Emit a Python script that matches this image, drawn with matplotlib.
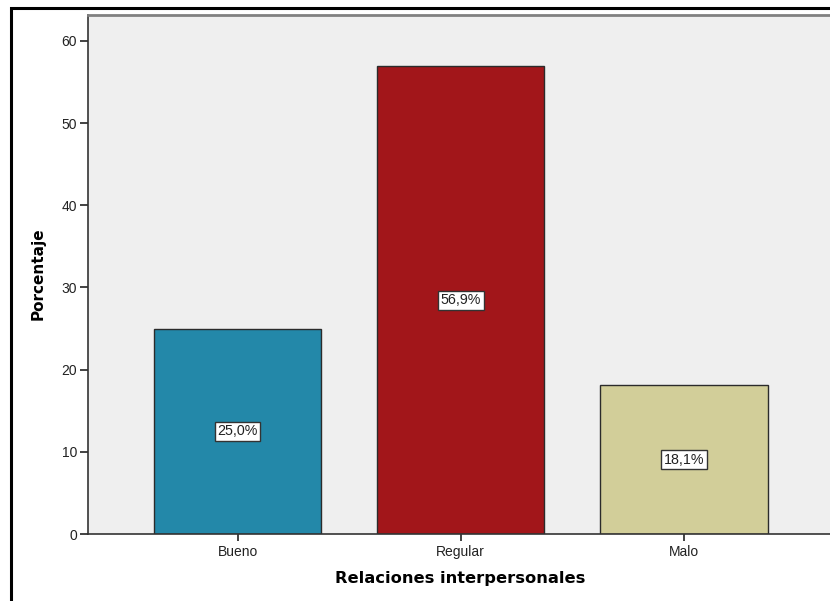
import matplotlib.pyplot as plt
from matplotlib.patches import Rectangle

plt.rcParams['font.family'] = ['Liberation Sans', 'DejaVu Sans']

categorias = ['Bueno', 'Regular', 'Malo']
porcentajes = [25.0, 56.9, 18.1]
colores = ['#2388A9', '#A2161A', '#D2CE99']
etiquetas = ['25,0%', '56,9%', '18,1%']

W, H = 830, 601
fig = plt.figure(figsize=(W / 100, H / 100), dpi=100)

# marco exterior negro (recortado a la derecha y abajo)
fig.patches.append(Rectangle((10.5 / W, -0.05), 1.2, (H - 8.5) / H + 0.05,
                             transform=fig.transFigure, fill=False,
                             edgecolor='black', linewidth=2.2, zorder=0))

x0, x1, y0, y1 = 88, 833.5, 534, 15
ax = fig.add_axes([x0 / W, (H - y0) / H, (x1 - x0) / W, (y0 - y1) / H])
ax.set_facecolor('#EFEFEF')

x = range(len(categorias))
ax.bar(x, porcentajes, width=0.75, color=colores, edgecolor='#2b2b2b',
       linewidth=1.0, zorder=2)

for i, (v, t) in enumerate(zip(porcentajes, etiquetas)):
    ax.text(i, v / 2, t, ha='center', va='center', fontsize=10.3, color='#222222',
            zorder=3,
            bbox=dict(boxstyle='square,pad=0.18', facecolor='white',
                      edgecolor='#333333', linewidth=1.0))

ax.set_xlim(-0.67, 2.67)
ax.set_ylim(0, 63.15)
ax.set_yticks([0, 10, 20, 30, 40, 50, 60])
ax.set_xticks(list(x))
ax.set_xticklabels(categorias)
ax.tick_params(axis='both', labelsize=10, colors='#222222', length=6, width=1.2)
ax.tick_params(axis='x', length=5, pad=3)
ax.tick_params(axis='y', pad=2)

for lado in ['left', 'bottom']:
    ax.spines[lado].set_color('#333333')
    ax.spines[lado].set_linewidth(1.2)
ax.spines['top'].set_color('#808080')
ax.spines['top'].set_linewidth(2)
ax.spines['right'].set_visible(False)

ax.set_ylabel('Porcentaje', fontsize=11, fontweight='bold',
              family=['DejaVu Sans'])
ax.set_xlabel('Relaciones interpersonales', fontsize=11.7, fontweight='bold',
              family=['DejaVu Sans'])
ax.yaxis.set_label_coords((46 - x0) / (x1 - x0), (534 - 274) / (y0 - y1))
ax.xaxis.set_label_coords((460 - x0) / (x1 - x0), -(571 - y0) / (y0 - y1))

fig.savefig('out.png', dpi=100)
